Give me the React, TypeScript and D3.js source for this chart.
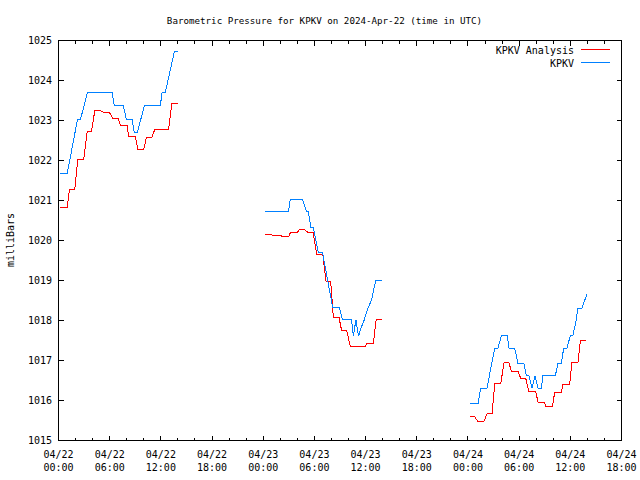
import React from "react";
import * as d3 from "d3";

// Hours since 2024-04-22 00:00 UTC, pressure in millibars
const analysisHours1 = [0.23, 1.02, 1.29, 1.91, 2.26, 2.96, 3.36, 3.86, 4.25, 4.92, 5.3, 5.97, 6.35, 6.99, 7.26, 8.04, 8.23, 9.01, 9.3, 10.0, 10.3, 10.94, 11.29, 12.91, 13.28, 14.0];
const analysisValues1 = [1020.83, 1020.83, 1021.28, 1021.28, 1022.03, 1022.03, 1022.72, 1022.72, 1023.24, 1023.24, 1023.2, 1023.2, 1023.06, 1023.06, 1022.88, 1022.88, 1022.61, 1022.61, 1022.28, 1022.28, 1022.58, 1022.58, 1022.78, 1022.78, 1023.42, 1023.42];
const analysisHours2 = [24.26, 24.96, 25.05, 26.06, 26.16, 27.0, 27.19, 28.0, 28.28, 28.79, 29.26, 29.84, 30.27, 30.98, 31.36, 31.91, 32.22, 32.88, 33.2, 33.79, 34.23, 35.93, 36.12, 36.9, 37.25, 37.88];
const analysisValues2 = [1020.16, 1020.16, 1020.13, 1020.13, 1020.1, 1020.1, 1020.2, 1020.2, 1020.28, 1020.28, 1020.2, 1020.2, 1019.66, 1019.66, 1018.98, 1018.98, 1018.08, 1018.08, 1017.74, 1017.74, 1017.34, 1017.34, 1017.42, 1017.42, 1018.03, 1018.03];
const analysisHours3 = [48.21, 48.8, 49.18, 49.85, 50.24, 50.82, 51.14, 51.84, 52.23, 52.81, 53.09, 53.87, 54.18, 54.77, 55.12, 55.94, 56.21, 56.99, 57.11, 57.89, 58.16, 58.95, 59.13, 59.92, 60.19, 60.89, 61.17, 61.87];
const analysisValues3 = [1015.59, 1015.59, 1015.47, 1015.47, 1015.67, 1015.67, 1016.42, 1016.42, 1016.94, 1016.94, 1016.73, 1016.73, 1016.56, 1016.56, 1016.23, 1016.23, 1015.96, 1015.96, 1015.84, 1015.84, 1016.19, 1016.19, 1016.41, 1016.41, 1016.94, 1016.94, 1017.49, 1017.49];

const kpkvHours1 = [0.23, 1.02, 2.22, 2.57, 3.39, 6.28, 6.55, 7.6, 7.96, 8.62, 8.89, 9.24, 10.06, 11.94, 12.14, 12.52, 13.58, 14.0];
const kpkvValues1 = [1021.67, 1021.67, 1023.02, 1023.02, 1023.7, 1023.7, 1023.37, 1023.37, 1023.03, 1023.03, 1022.69, 1022.69, 1023.37, 1023.37, 1023.7, 1023.7, 1024.72, 1024.72];
const kpkvHours2 = [24.26, 26.97, 27.17, 28.59, 29.08, 29.29, 29.57, 29.88, 30.46, 30.95, 32.15, 32.94, 33.29, 34.35, 34.56, 34.87, 35.17, 35.46, 35.85, 36.2, 36.71, 37.18, 37.88];
const kpkvValues2 = [1020.73, 1020.73, 1021.03, 1021.03, 1020.73, 1020.73, 1020.33, 1020.33, 1019.7, 1019.7, 1018.32, 1018.32, 1018.02, 1018.02, 1017.61, 1018.02, 1017.61, 1017.81, 1018.02, 1018.27, 1018.52, 1019.0, 1019.0];
const kpkvHours3 = [48.21, 49.18, 49.5, 50.23, 51.14, 51.52, 51.92, 52.62, 52.81, 53.48, 53.87, 54.57, 54.85, 55.15, 55.5, 55.86, 56.21, 56.61, 56.79, 58.24, 58.55, 58.95, 59.22, 59.6, 60.0, 60.3, 60.7, 60.89, 61.36, 61.94];
const kpkvValues3 = [1015.92, 1015.92, 1016.31, 1016.31, 1017.31, 1017.31, 1017.62, 1017.62, 1017.31, 1017.31, 1016.92, 1016.92, 1016.62, 1016.62, 1016.31, 1016.62, 1016.31, 1016.31, 1016.62, 1016.62, 1016.92, 1016.92, 1017.31, 1017.31, 1017.62, 1017.62, 1018.02, 1018.31, 1018.31, 1018.65];

const yTicks = [1015, 1016, 1017, 1018, 1019, 1020, 1021, 1022, 1023, 1024, 1025];
const seriesNames = ["KPKV Analysis", "KPKV"];
const seriesColors = ["#ff0000", "#0080ff"];
const titleText = "Barometric Pressure for KPKV on 2024-Apr-22 (time in UTC)";
const yLabel = "milliBars";

const START = Date.UTC(2024, 3, 22, 0, 0);
const END = Date.UTC(2024, 3, 24, 18, 0);

const FONT = "'DejaVu Sans Mono', monospace";

export default function App() {
  const left = 58.5, right = 621.5, top = 40.5, bottom = 440.5;
  const x = d3.scaleUtc().domain([new Date(START), new Date(END)]).range([left, right]);
  const y = d3.scaleLinear().domain([1015, 1025]).range([bottom, top]);
  const toDate = (h: number) => new Date(START + h * 3600000);

  const line = d3
    .line<[number, number]>()
    .x((d) => x(toDate(d[0])))
    .y((d) => y(d[1]));

  const zipped = (hs: number[], vs: number[]) => hs.map((h, i) => [h, vs[i]] as [number, number]);
  const analysisSegs = [
    zipped(analysisHours1, analysisValues1),
    zipped(analysisHours2, analysisValues2),
    zipped(analysisHours3, analysisValues3),
  ];
  const kpkvSegs = [
    zipped(kpkvHours1, kpkvValues1),
    zipped(kpkvHours2, kpkvValues2),
    zipped(kpkvHours3, kpkvValues3),
  ];

  const majorX = d3.utcHour.every(6)!.range(new Date(START), new Date(END + 1));
  const minorX = d3.utcHour.every(2)!.range(new Date(START), new Date(END + 1));
  const fmtDate = d3.utcFormat("%m/%d");
  const fmtTime = d3.utcFormat("%H:%M");

  const majorLen = 5, minorLen = 3;

  return (
    <svg
      width={640}
      height={480}
      style={{ position: "absolute", left: 0, top: 0, background: "#fff" }}
      fontFamily={FONT}
      fontSize={10}
    >
      <rect x={0} y={0} width={640} height={480} fill="#fff" />
      <text x={324.5} y={23.5} textAnchor="middle" fontSize={9.2}>{titleText}</text>
      <text transform={`translate(14,240) rotate(-90)`} textAnchor="middle">{yLabel}</text>

      <g shapeRendering="crispEdges" stroke="#000" strokeWidth={1}>
        {minorX.map((d, i) => (
          <g key={"mx" + i}>
            <line x1={x(d)} x2={x(d)} y1={bottom} y2={bottom - minorLen} />
            <line x1={x(d)} x2={x(d)} y1={top} y2={top + minorLen} />
          </g>
        ))}
        {majorX.map((d, i) => (
          <g key={"Mx" + i}>
            <line x1={x(d)} x2={x(d)} y1={bottom} y2={bottom - majorLen} />
            <line x1={x(d)} x2={x(d)} y1={top} y2={top + majorLen} />
          </g>
        ))}
        {yTicks.map((t) => (
          <g key={"y" + t}>
            <line x1={left} x2={left + majorLen} y1={y(t)} y2={y(t)} />
            <line x1={right} x2={right - majorLen} y1={y(t)} y2={y(t)} />
          </g>
        ))}
      </g>

      {majorX.map((d, i) => (
        <g key={"xl" + i}>
          <text x={x(d)} y={457.5} textAnchor="middle">{fmtDate(d)}</text>
          <text x={x(d)} y={470.5} textAnchor="middle">{fmtTime(d)}</text>
        </g>
      ))}
      {yTicks.map((t) => (
        <text key={"yl" + t} x={52} y={y(t) + 3.5} textAnchor="end">{t}</text>
      ))}

      <g fill="none" strokeWidth={1} shapeRendering="crispEdges">
        {analysisSegs.map((s, i) => (
          <path key={"a" + i} d={line(s) || ""} stroke={seriesColors[0]} />
        ))}
        {kpkvSegs.map((s, i) => (
          <path key={"k" + i} d={line(s) || ""} stroke={seriesColors[1]} />
        ))}
      </g>

      <rect x={left} y={top} width={right - left} height={bottom - top} fill="none" stroke="#000" strokeWidth={1} shapeRendering="crispEdges" />

      {seriesNames.map((n, i) => (
        <g key={"lg" + i}>
          <text x={574} y={53.5 + i * 13} textAnchor="end">{n}</text>
          <line x1={581} x2={609.5} y1={49.5 + i * 13} y2={49.5 + i * 13} stroke={seriesColors[i]} shapeRendering="crispEdges" />
        </g>
      ))}
    </svg>
  );
}
